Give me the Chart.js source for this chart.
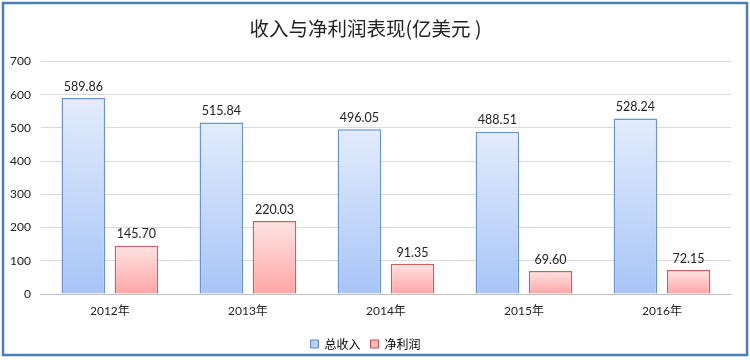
<!DOCTYPE html>
<html><head><meta charset="utf-8">
<script src="https://cdn.jsdelivr.net/npm/chart.js@4/dist/chart.umd.min.js"></script>
<style>html,body{margin:0;padding:0;background:#fff}#wrap{position:absolute;left:0;top:0;width:750px;height:360px}</style>
</head><body><div id="wrap"><canvas id="c" width="750" height="360"></canvas></div>
<script>
const categories = ['2012年','2013年','2014年','2015年','2016年'];
const revenue = [589.86, 515.84, 496.05, 488.51, 528.24];
const profit = [145.70, 220.03, 91.35, 69.60, 72.15];
const seriesNames = ['总收入','净利润'];
const yTicks = [0,100,200,300,400,500,600,700];
const titleText = '收入与净利润表现(亿美元 )';

function grad(top, bottom){
  return function(ctx){
    const ch = ctx.chart;
    if(!ch.chartArea || ctx.type !== 'data') return top;
    const y = ch.scales.y;
    const t = y.getPixelForValue(ctx.raw), b = y.getPixelForValue(0);
    const g = ch.ctx.createLinearGradient(0, t, 0, b);
    g.addColorStop(0, top); g.addColorStop(1, bottom);
    return g;
  };
}
const frame = {
  id:'frame',
  beforeDraw(ch){
    const c = ch.ctx; c.save();
    c.fillStyle='#fff'; c.fillRect(0,0,ch.width,ch.height);
    c.restore();
  },
  afterDraw(ch){
    const c = ch.ctx; c.save();
    c.strokeStyle='#4a7ebb'; c.lineWidth=2.5;
    c.strokeRect(3,3,744,352);
    c.restore();
  }
};
const labels = {
  id:'vlabels',
  afterDatasetsDraw(ch){
    const c = ch.ctx; c.save();
    c.font = '12.5px Lato, "Liberation Sans", sans-serif';
    c.fillStyle = '#222'; c.textAlign='center'; c.textBaseline='bottom';
    ch.data.datasets.forEach((ds,i)=>{
      ch.getDatasetMeta(i).data.forEach((el,j)=>{
        c.fillText(ds.data[j].toFixed(2), el.x, el.y - 5);
      });
    });
    c.restore();
  }
};
new Chart(document.getElementById('c'), {
  type:'bar',
  data:{
    labels: categories,
    datasets:[
      {label:seriesNames[0], data:revenue, backgroundColor:grad('#e3ecfc','#a8c5f7'), borderColor:'#6a93d4', borderWidth:1.5, borderSkipped:'bottom', categoryPercentage:0.77, barPercentage:0.82},
      {label:seriesNames[1], data:profit, backgroundColor:grad('#ffe3e3','#ffa5a5'), borderColor:'#c8605c', borderWidth:1.5, borderSkipped:'bottom', categoryPercentage:0.77, barPercentage:0.82}
    ]
  },
  options:{
    responsive:false, animation:false,
    layout:{padding:{left:0,right:19,top:8,bottom:0}},
    plugins:{
      title:{display:true, text:titleText, color:'#222', font:{family:'"Noto Sans CJK SC"', size:19.5, weight:'normal'}, padding:{top:9,bottom:21}},
      legend:{position:'bottom', labels:{boxWidth:8, boxHeight:8, color:'#222', font:{family:'"Noto Sans CJK SC"', size:12}, padding:10,
        generateLabels:()=>[
          {text:seriesNames[0], fillStyle:'#b7d0f8', strokeStyle:'#5b85c8', lineWidth:1, datasetIndex:0},
          {text:seriesNames[1], fillStyle:'#ffbcbc', strokeStyle:'#c0504d', lineWidth:1, datasetIndex:1}
        ]}},
      tooltip:{enabled:false}
    },
    scales:{
      x:{grid:{display:false}, border:{color:'#bfbfbf'}, ticks:{color:'#222', font:{family:'Lato, "Noto Sans CJK SC"', size:12}, padding:2},
        afterFit(s){ s.height += 7.5; }},
      y:{min:0, max:700, afterBuildTicks(s){ s.ticks = yTicks.map(v=>({value:v})); },
        grid:{color:'#d9d9d9', drawTicks:false}, border:{display:false},
        ticks:{color:'#222', font:{family:'Lato, sans-serif', size:12}, padding:10}}
    }
  },
  plugins:[frame, labels]
});
</script></body></html>
